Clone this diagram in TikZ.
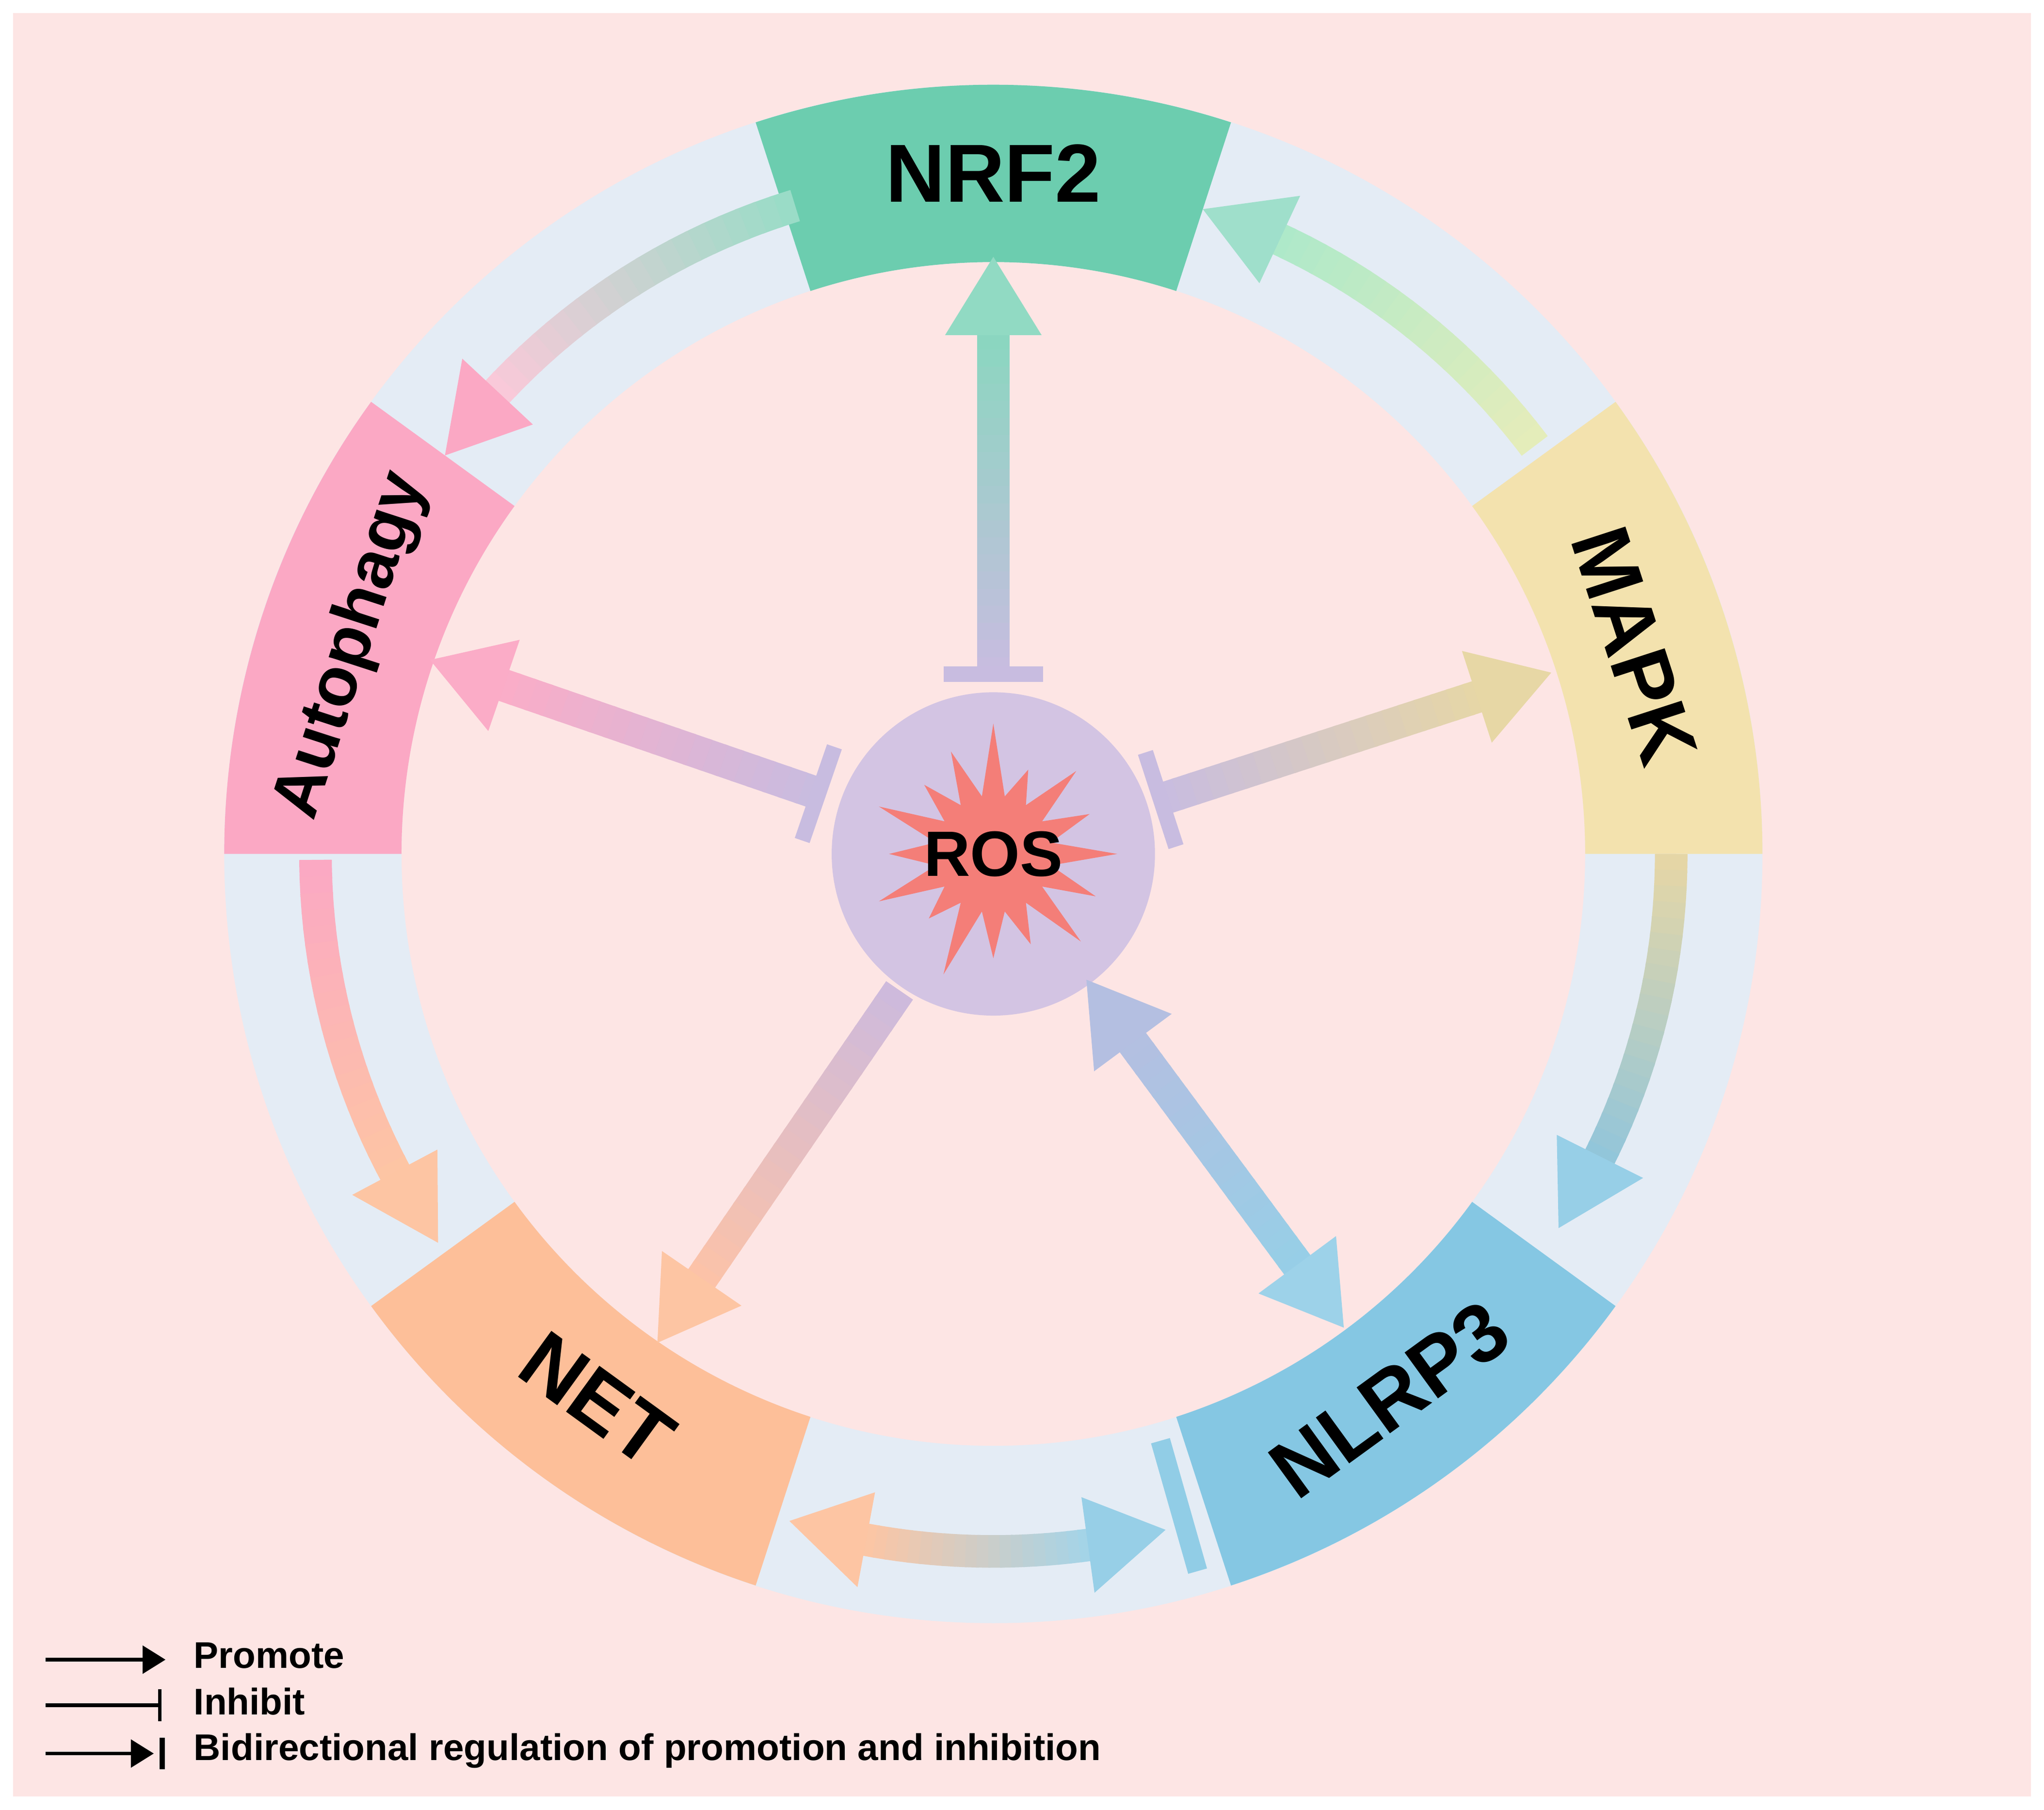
\documentclass[tikz,border=0pt]{standalone}
\usepackage{fontspec}
\setmainfont{Liberation Sans}
\usetikzlibrary{arrows.meta,shapes.geometric,calc}
\definecolor{bg}{HTML}{FDE5E4}
\definecolor{ring}{HTML}{E4ECF5}
\definecolor{cg}{HTML}{6CCDAF}
\definecolor{cy}{HTML}{F3E2AE}
\definecolor{cp}{HTML}{FBA8C4}
\definecolor{co}{HTML}{FDBF99}
\definecolor{cb}{HTML}{85C7E3}
\definecolor{ros}{HTML}{D3C4E3}
\definecolor{star}{HTML}{F47E78}
\definecolor{bar}{HTML}{C8BCE0}
\tikzset{
 lbl/.style={font=\fontsize{18}{20}\bfseries\selectfont, text=black},
 leg/.style={font=\fontsize{8.1}{9.5}\bfseries\selectfont, anchor=west, inner sep=0pt},
 legline/.style={line width=0.8pt, black}
}
\newcommand\garc[5]{%
 \foreach \i in {0,...,19}{%
  \pgfmathsetmacro\ta{#1+(#2-#1)*\i/20}%
  \pgfmathsetmacro\tb{\i==19 ? #2 : #1+(#2-#1)*(\i+1.2)/20}%
  \pgfmathtruncatemacro\p{\i*5+2}%
  \draw[line width=0.25cm, color={#5!\p!#4}] (\ta:#3) arc[start angle=\ta, end angle=\tb, radius=#3];}}
\newcommand\ahead[4]{\fill[#4] (#1:#3) -- (#2:#3+0.37) -- (#2:#3-0.37) -- cycle;}
\newcommand\gline[5]{%
 \foreach \i in {0,...,19}{%
  \pgfmathsetmacro\ra{#2+(#3-#2)*\i/20}%
  \pgfmathsetmacro\rb{\i==19 ? #3 : #2+(#3-#2)*(\i+1.2)/20}%
  \pgfmathtruncatemacro\p{\i*5+2}%
  \draw[line width=0.25cm, color={#5!\p!#4}] (#1:\ra) -- (#1:\rb);}}
\newcommand\rhead[3]{\fill[#3] (#1:#2) -- ($(#1:#2-0.6)+(#1+90:0.37)$) -- ($(#1:#2-0.6)+(#1-90:0.37)$) -- cycle;}
\newcommand\rbar[2]{\draw[bar, line width=0.12cm] ($(#1:#2)+(#1+90:0.38)$) -- ($(#1:#2)+(#1-90:0.38)$);}
\newcommand\seg[3]{\fill[#3] (#1:5.9) arc[start angle=#1, end angle=#2, radius=5.9] -- (#2:4.54) arc[start angle=#2, end angle=#1, radius=4.54] -- cycle;}
\begin{document}
\begin{tikzpicture}
\useasboundingbox (0,0) rectangle (15.68,13.88);
\fill[white] (0,0) rectangle (15.68,13.88);
\fill[bg] (0.1,0.1) rectangle (15.58,13.78);
\begin{scope}[shift={(7.62,7.33)}]
\coordinate (c) at (0,0);
\fill[ring, even odd rule] (c) circle[radius=5.9] (c) circle[radius=4.54];
\seg{72}{108}{cg}
\seg{0}{36}{cy}
\seg{144}{180}{cp}
\seg{216}{252}{co}
\seg{288}{324}{cb}
\node[lbl] (nrf2) at (90:5.22) {NRF2};
\node[lbl, rotate=-72] (mapk) at (18:5.17) {MAPK};
\node[lbl, rotate=72, font=\fontsize{15}{17}\bfseries\selectfont] (aut) at (162:5.17) {Autophagy};
\node[lbl, rotate=-36] (net) at (234:5.17) {NET};
\node[lbl, rotate=36] (nlrp3) at (306:5.17) {NLRP3};
\garc{37}{65.5}{5.2}{cy!90!green!70!white}{cg!70!white}
\ahead{72}{65}{5.2}{cg!65!white}
\garc{107}{137.5}{5.2}{cg!70!white}{cp!90!white}
\ahead{144}{137}{5.2}{cp}
\garc{180.5}{208.5}{5.2}{cp}{co!90!white}
\ahead{215}{208}{5.2}{co!90!white}
\garc{0}{-27}{5.2}{cy!95!black}{cb!85!white}
\ahead{-33.5}{-26.5}{5.2}{cb!85!white}
\garc{259.3}{278}{5.35}{co!90!white}{cb!85!white}
\ahead{253}{259.5}{5.35}{co!90!white}
\ahead{284.3}{277.8}{5.35}{cb!85!white}
\draw[cb!90!white, line width=0.15cm] (285.9:4.68) -- (285.9:5.72);
\fill[ros] (c) circle[radius=1.24];
\fill[star] (0:0.95)
 \foreach \k/\ro in {1/0.8,2/0.9,3/0.7,4/1.0,5/0.85,6/0.75,7/0.95,8/0.8,9/0.95,10/0.7,11/1.0,12/0.8,13/0.75,14/0.95,15/0.85} {
   -- (\k*22.5-11.25:0.45) -- (\k*22.5:\ro)} -- (348.75:0.45) -- cycle;
\node[lbl, font=\fontsize{14}{16}\bfseries\selectfont] (ros) at (0,0) {ROS};
\gline{90}{1.38}{4.0}{bar}{cg!80!white}
\rhead{90}{4.58}{cg!75!white}
\rbar{90}{1.38}
\gline{161}{1.42}{4.0}{bar}{cp!95!white}
\rhead{161}{4.57}{cp!95!white}
\rbar{161}{1.42}
\gline{18}{1.35}{3.95}{bar}{cy!95!black}
\rhead{18}{4.5}{cy!95!black}
\rbar{18}{1.35}
\gline{235.5}{1.27}{4.0}{bar!90!cp}{co!90!white}
\rhead{235.5}{4.55}{co!90!white}
\gline{-53.5}{1.78}{3.95}{bar!70!cb}{cb!80!white}
\rhead{-53.5}{4.52}{cb!80!white}
\rhead{126.5}{-1.2}{bar!70!cb}
\end{scope}
\coordinate (l1) at (0.35,1.15); \coordinate (l1e) at (1.27,1.15);
\coordinate (l2) at (0.35,0.8); \coordinate (l2e) at (1.24,0.8);
\coordinate (l3) at (0.35,0.43); \coordinate (l3e) at (1.18,0.43);
\draw[legline, -{Triangle[width=6pt,length=5pt]}] (l1) -- (l1e);
\draw[legline, -{Bar[width=7pt]}] (l2) -- (l2e);
\draw[legline, -{Triangle[width=6pt,length=5pt]}] (l3) -- (l3e);
\draw[legline, line width=1.2pt] (1.245,0.31) -- (1.245,0.55);
\node[leg] (t1) at (1.48,1.18) {Promote};
\node[leg] (t2) at (1.48,0.83) {Inhibit};
\node[leg] (t3) at (1.48,0.45) {Bidirectional regulation of promotion and inhibition};
\end{tikzpicture}
\end{document}
